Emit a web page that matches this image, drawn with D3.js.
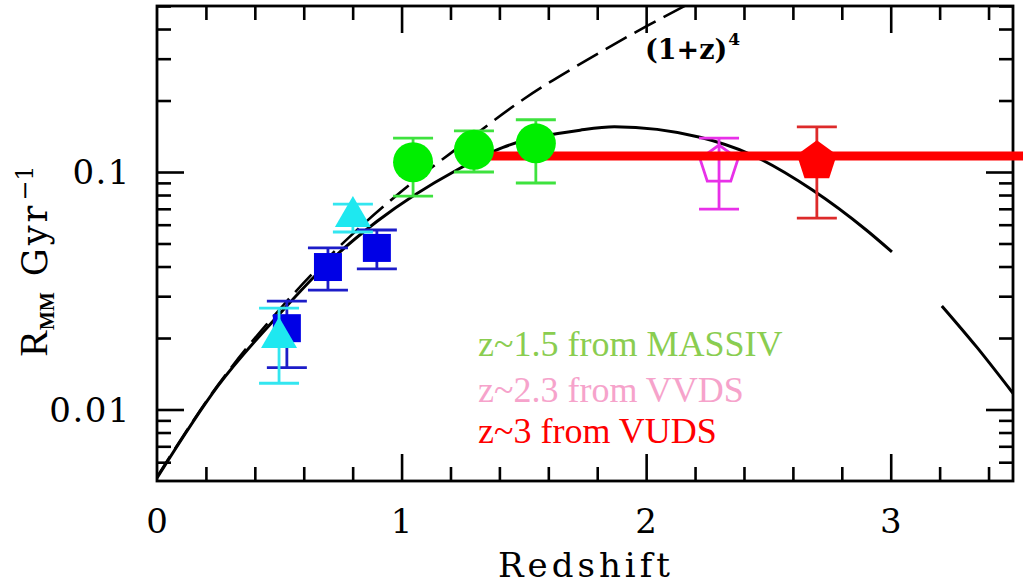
<!DOCTYPE html>
<html>
<head>
<meta charset="utf-8">
<script src="https://cdn.jsdelivr.net/npm/d3@7"></script>
<style>
  body { margin: 0; background: #fff; }
  svg { display: block; }
</style>
</head>
<body>
<div id="chart"></div>
<script>

// ---- data ----
var xTickValues = [0, 1, 2, 3];
var xTickLabels = ["0", "1", "2", "3"];
var yTickValues = [0.01, 0.1];
var yTickLabels = ["0.01", "0.1"];

// dashed (1+z)^4 curve
var powerLawZ = [0, 0.25, 0.5, 0.75, 1, 1.25, 1.5, 1.75, 2, 2.25];
var powerLawR = [0.0052, 0.0127, 0.0263, 0.049, 0.083, 0.131, 0.203, 0.293, 0.41, 0.56];

// solid model curve (null = gap in the drawn line)
var modelZ = [0, 0.25, 0.5, 0.7, 0.9, 1.226, 1.415, 1.73, 1.87, 2.22, 2.424, 2.68, 2.9, 3.005, 3.1, 3.209, 3.352, 3.5];
var modelR = [0.00515, 0.0126, 0.0252, 0.0415, 0.062, 0.102, 0.127, 0.150, 0.155, 0.140, 0.119, 0.084, 0.057, 0.0461, null, 0.0273, 0.0183, 0.0117];

// blue squares
var squareZ  = [0.531, 0.699, 0.899];
var squareR  = [0.0220, 0.0398, 0.0479];
var squareLo = [0.0150, 0.0318, 0.0391];
var squareHi = [0.0286, 0.0479, 0.0570];

// cyan triangles
var triZ  = [0.499, 0.801];
var triR  = [0.0210, 0.0679];
var triLo = [0.0129, 0.0559];
var triHi = [0.0267, 0.0733];

// green circles (MASSIV)
var massivZ  = [1.047, 1.296, 1.549];
var massivR  = [0.110, 0.124, 0.132];
var massivLo = [0.0792, 0.100, 0.0899];
var massivHi = [0.139, 0.149, 0.166];

// VVDS open pentagon, VUDS filled pentagon
var vvdsZ = [2.298], vvdsR = [0.107], vvdsLo = [0.0698], vvdsHi = [0.139];
var vudsZ = [2.698], vudsR = [0.111], vudsLo = [0.0640], vudsHi = [0.155];

// VUDS constant rate line (runs past the right frame in the figure)
var vudsLineZ = [1.365, 3.55];
var vudsLineR = [0.1167, 0.1167];

var legendLabels = ["z~1.5 from MASSIV", "z~2.3 from VVDS", "z~3 from VUDS"];
var legendColors = ["#8acd50", "#f6a3cb", "#ff0000"];


function zip(zs, rs, los, his) {
    return zs.map(function(z, i) {
        return { z: z, r: rs[i], lo: los ? los[i] : null, hi: his ? his[i] : null };
    });
}

function pentagon(R) {
    var pts = d3.range(5).map(function(k) {
        var a = -Math.PI / 2 + k * 2 * Math.PI / 5;
        return [R * Math.cos(a), R * Math.sin(a)];
    });
    return "M" + pts.join("L") + "Z";
}


function MergerRateChart(_parentElement) {
    this.parentElement = _parentElement;
    this.initVis();
}

MergerRateChart.prototype.initVis = function() {
    var vis = this;

    vis.margin = { top: 6, right: 10, bottom: 104, left: 157 };
    vis.width = 1023 - vis.margin.left - vis.margin.right;
    vis.height = 585 - vis.margin.top - vis.margin.bottom;

    vis.root = d3.select("#" + vis.parentElement).append("svg")
        .attr("width", 1023)
        .attr("height", 585);

    vis.svg = vis.root.append("g")
        .attr("transform", "translate(" + vis.margin.left + "," + vis.margin.top + ")");

    vis.svg.append("clipPath").attr("id", "plot-clip")
        .append("rect")
        .attr("width", vis.width)
        .attr("height", vis.height);

    vis.x = d3.scaleLinear().domain([0, 3.5]).range([0, vis.width]);
    vis.y = d3.scaleLog().domain([0.005, 0.5]).range([vis.height, 0]);

    vis.drawAxes();
    vis.updateVis();
};

MergerRateChart.prototype.drawAxes = function() {
    var vis = this;

    var xMinor = d3.range(0.2, 3.5, 0.2).filter(function(d) {
        return Math.abs(d - Math.round(d)) > 0.01;
    });
    var yMinor = [];
    [0.001, 0.01, 0.1].forEach(function(dec) {
        for (var k = 2; k <= 9; k++) {
            var v = dec * k;
            if (v > 0.0051 && v < 0.49) yMinor.push(v);
        }
    });
    yMinor.push(0.5);

    var majorLen = 27, minorLen = 14;

    function tickStyle(g) {
        g.select(".domain").remove();
        g.selectAll("line").attr("stroke", "#000").attr("stroke-width", 2.6);
        g.selectAll("text").remove();
    }

    // minor ticks
    vis.svg.append("g").attr("transform", "translate(0," + vis.height + ")")
        .call(d3.axisBottom(vis.x).tickValues(xMinor).tickSize(-minorLen)).call(tickStyle);
    vis.svg.append("g")
        .call(d3.axisTop(vis.x).tickValues(xMinor).tickSize(-minorLen)).call(tickStyle);
    vis.svg.append("g")
        .call(d3.axisLeft(vis.y).tickValues(yMinor).tickSize(-minorLen)).call(tickStyle);
    vis.svg.append("g").attr("transform", "translate(" + vis.width + ",0)")
        .call(d3.axisRight(vis.y).tickValues(yMinor).tickSize(-minorLen)).call(tickStyle);

    // major ticks
    vis.svg.append("g").attr("transform", "translate(0," + vis.height + ")")
        .call(d3.axisBottom(vis.x).tickValues(xTickValues.slice(1)).tickSize(-majorLen)).call(tickStyle);
    vis.svg.append("g")
        .call(d3.axisTop(vis.x).tickValues(xTickValues.slice(1)).tickSize(-majorLen)).call(tickStyle);
    vis.svg.append("g")
        .call(d3.axisLeft(vis.y).tickValues(yTickValues).tickSize(-majorLen)).call(tickStyle);
    vis.svg.append("g").attr("transform", "translate(" + vis.width + ",0)")
        .call(d3.axisRight(vis.y).tickValues(yTickValues).tickSize(-majorLen)).call(tickStyle);

    // frame
    vis.svg.append("rect")
        .attr("width", vis.width)
        .attr("height", vis.height)
        .attr("fill", "none")
        .attr("stroke", "#000")
        .attr("stroke-width", 2.8);

    // tick labels
    vis.svg.selectAll(".x-label").data(xTickValues).enter().append("text")
        .attr("class", "x-label")
        .attr("x", function(d) { return vis.x(d); })
        .attr("y", vis.height + 52)
        .attr("text-anchor", "middle")
        .attr("font-family", "DejaVu Serif")
        .attr("font-size", 34)
        .text(function(d, i) { return xTickLabels[i]; });

    vis.svg.selectAll(".y-label").data(yTickValues).enter().append("text")
        .attr("class", "y-label")
        .attr("x", -26)
        .attr("y", function(d) { return vis.y(d) + 12; })
        .attr("text-anchor", "end")
        .attr("font-family", "DejaVu Serif")
        .attr("font-size", 34)
        .attr("letter-spacing", 1.5)
        .text(function(d, i) { return yTickLabels[i]; });

    // axis titles
    vis.svg.append("text")
        .attr("x", vis.x(1.75) + 1)
        .attr("y", vis.height + 96)
        .attr("text-anchor", "middle")
        .attr("font-family", "DejaVu Serif")
        .attr("font-size", 34)
        .attr("letter-spacing", 4)
        .text("Redshift");

    var yt = vis.root.append("text")
        .attr("transform", "translate(47,261) rotate(-90)")
        .attr("text-anchor", "middle")
        .attr("fill", "#000");
    yt.append("tspan").attr("font-family", "Liberation Serif").attr("font-size", 40).text("R");
    yt.append("tspan").attr("font-family", "Liberation Serif").attr("font-size", 20)
        .attr("font-weight", "bold").attr("dy", 7).text("MM");
    yt.append("tspan").attr("font-family", "DejaVu Serif").attr("font-size", 35)
        .attr("dy", -7).attr("dx", 16).attr("letter-spacing", 3).text("Gyr");
    yt.append("tspan").attr("font-family", "DejaVu Serif").attr("font-size", 24)
        .attr("dy", -14).attr("dx", 2).text("\u22121");
};

MergerRateChart.prototype.updateVis = function() {
    var vis = this;

    var plot = vis.svg.append("g").attr("clip-path", "url(#plot-clip)");

    var line = d3.line()
        .defined(function(d) { return d.r !== null; })
        .x(function(d) { return vis.x(d.z); })
        .y(function(d) { return vis.y(d.r); })
        .curve(d3.curveMonotoneX);

    plot.append("path")
        .datum(zip(modelZ, modelR))
        .attr("d", line)
        .attr("fill", "none")
        .attr("stroke", "#000")
        .attr("stroke-width", 3);

    plot.append("path")
        .datum(zip(powerLawZ, powerLawR))
        .attr("d", line)
        .attr("fill", "none")
        .attr("stroke", "#000")
        .attr("stroke-width", 2.6)
        .attr("stroke-dasharray", "24,9");

    vis.svg.append("text")
        .attr("x", 645 - vis.margin.left)
        .attr("y", 59 - vis.margin.top)
        .attr("font-family", "DejaVu Serif")
        .attr("font-weight", "bold")
        .attr("font-size", 27)
        .text("(1+z)")
        .append("tspan")
        .attr("font-size", 17)
        .attr("dy", -14)
        .attr("dx", 1)
        .text("4");

    function errorBars(data, color, capW) {
        var g = vis.svg.append("g").attr("stroke", color).attr("stroke-width", 2.8);
        g.selectAll(".stem").data(data).enter().append("line")
            .attr("x1", function(d) { return vis.x(d.z); })
            .attr("x2", function(d) { return vis.x(d.z); })
            .attr("y1", function(d) { return vis.y(d.lo); })
            .attr("y2", function(d) { return vis.y(d.hi); });
        ["lo", "hi"].forEach(function(k) {
            g.selectAll(".cap-" + k).data(data).enter().append("line")
                .attr("x1", function(d) { return vis.x(d.z) - capW / 2; })
                .attr("x2", function(d) { return vis.x(d.z) + capW / 2; })
                .attr("y1", function(d) { return vis.y(d[k]); })
                .attr("y2", function(d) { return vis.y(d[k]); });
        });
    }

    function translate(d) { return "translate(" + vis.x(d.z) + "," + vis.y(d.r) + ")"; }

    // blue squares
    var sq = zip(squareZ, squareR, squareLo, squareHi);
    errorBars(sq, "#1c1cc8", 40);
    vis.svg.selectAll(".square").data(sq).enter().append("rect")
        .attr("class", "square")
        .attr("x", function(d) { return vis.x(d.z) - 14; })
        .attr("y", function(d) { return vis.y(d.r) - 14; })
        .attr("width", 28).attr("height", 28)
        .attr("fill", "#0000e6");

    // cyan triangles
    var tri = zip(triZ, triR, triLo, triHi);
    errorBars(tri, "#33e6f0", 40);
    vis.svg.selectAll(".tri").data(tri).enter().append("path")
        .attr("class", "tri")
        .attr("transform", translate)
        .attr("d", "M0,-16L18,15L-18,15Z")
        .attr("fill", "#1ee8f0");

    // VVDS open pentagon
    var vv = zip(vvdsZ, vvdsR, vvdsLo, vvdsHi);
    errorBars(vv, "#e830e8", 40);
    vis.svg.selectAll(".vvds").data(vv).enter().append("path")
        .attr("class", "vvds")
        .attr("transform", translate)
        .attr("d", pentagon(20))
        .attr("fill", "none")
        .attr("stroke", "#e830e8")
        .attr("stroke-width", 2.8);

    // VUDS filled pentagon
    var vu = zip(vudsZ, vudsR, vudsLo, vudsHi);
    errorBars(vu, "#dd2a2a", 40);
    vis.svg.selectAll(".vuds").data(vu).enter().append("path")
        .attr("class", "vuds")
        .attr("transform", translate)
        .attr("d", pentagon(21))
        .attr("fill", "#ff0000");

    // VUDS rate line, not clipped: it runs over the right frame
    vis.svg.append("path")
        .datum(zip(vudsLineZ, vudsLineR))
        .attr("d", d3.line().x(function(d) { return vis.x(d.z); }).y(function(d) { return vis.y(d.r); }))
        .attr("stroke", "#ff0000")
        .attr("stroke-width", 9);

    // green circles sit on top of the red line
    var ms = zip(massivZ, massivR, massivLo, massivHi);
    errorBars(ms, "#3ee23e", 40);
    vis.svg.selectAll(".massiv").data(ms).enter().append("circle")
        .attr("class", "massiv")
        .attr("cx", function(d) { return vis.x(d.z); })
        .attr("cy", function(d) { return vis.y(d.r); })
        .attr("r", 20)
        .attr("fill", "#00ee00");

    // legend text
    vis.svg.selectAll(".legend").data(legendLabels).enter().append("text")
        .attr("class", "legend")
        .attr("x", 478 - vis.margin.left)
        .attr("y", function(d, i) { return [356, 402, 443][i] - vis.margin.top; })
        .attr("font-family", "'Liberation Serif', 'Times New Roman', serif")
        .attr("font-size", 36)
        .attr("fill", function(d, i) { return legendColors[i]; })
        .text(function(d) { return d; });
};

var chart = new MergerRateChart("chart");
</script>
</body>
</html>
